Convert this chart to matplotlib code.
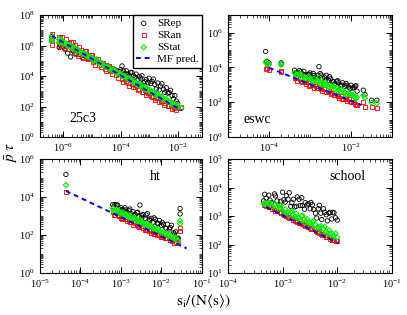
import numpy as np
import matplotlib
matplotlib.use("Agg")
import matplotlib.pyplot as plt
from matplotlib.ticker import LogLocator, NullFormatter

plt.rcParams['font.family'] = 'serif'
plt.rcParams['font.serif'] = ['Liberation Serif', 'DejaVu Serif']
plt.rcParams['mathtext.fontset'] = 'stix'

# ---- 25c3 ----
tl_s = [3.9e-7, 3.9e-7, 3.9e-7, 7.1e-7, 7.1e-7, 8.9e-7, 1.0e-6, 1.26e-6, 1.41e-6, 1.78e-6,
        2.0e-6, 2.5e-6, 2.8e-6, 3.5e-6, 4.5e-6, 5.6e-6, 7.1e-6, 8.9e-6, 1.12e-5, 1.41e-5,
        1.78e-5, 2.24e-5, 2.8e-5, 3.5e-5, 4.5e-5, 5.6e-5, 7.1e-5, 8.9e-5, 1.12e-4, 1.41e-4,
        1.78e-4, 2.24e-4, 2.8e-4, 3.5e-4, 4.0e-4, 5.0e-4, 5.6e-4, 7.1e-4, 7.9e-4, 1.0e-3,
        1.12e-3, 1.41e-3, 1.58e-3, 2.0e-3, 2.24e-3, 2.8e-3, 3.2e-3, 4.0e-3, 4.5e-3, 5.6e-3,
        6.3e-3, 7.9e-3, 8.9e-3, 1.0e-2, 1.35e-2,
        7.9e-7, 8.3e-7, 1.12e-6, 1.58e-6, 2.24e-6, 3.2e-6, 4.0e-6, 5.0e-6, 6.3e-6, 7.9e-6,
        1.0e-5, 1.26e-5, 1.58e-5, 2.0e-5, 2.5e-5, 3.2e-5, 4.0e-5, 5.0e-5, 6.3e-5, 7.9e-5,
        1.0e-4, 1.26e-4, 1.58e-4, 2.0e-4, 2.5e-4, 3.2e-4, 4.5e-4, 6.3e-4, 8.9e-4, 1.26e-3,
        1.78e-3, 2.5e-3, 3.5e-3, 5.0e-3, 7.1e-3]
tl_stat = [4.4e6, 2.75e6, 1.95e6, 2.6e6, 1.66e6, 2.3e6, 1.3e6, 1.4e6, 8.9e5, 1.1e6,
           6.9e5, 7.4e5, 4.4e5, 4.8e5, 2.8e5, 3.3e5, 1.86e5, 1.8e5, 1.0e5, 1.2e5,
           7.1e4, 6.9e4, 4.1e4, 4.3e4, 2.7e4, 2.8e4, 1.66e4, 1.6e4, 9.5e3, 1.0e4,
           6.3e3, 6.6e3, 3.6e3, 3.8e3, 2.7e3, 2.8e3, 1.66e3, 1.86e3, 1.23e3, 1.38e3,
           910, 890, 560, 660, 440, 440, 270, 320, 215, 210,
           132, 148, 102, 115, 83,
           1.6e6, 2.45e6, 1.45e6, 1.0e6, 6.9e5, 4.8e5, 3.8e5, 3.0e5, 2.3e5, 1.8e5,
           1.45e5, 1.12e5, 8.9e4, 6.9e4, 5.5e4, 4.3e4, 3.4e4, 2.6e4, 2.1e4, 1.6e4,
           1.3e4, 1.0e4, 7.9e3, 6.2e3, 4.9e3, 3.8e3, 2.7e3, 1.86e3, 1.29e3, 890,
           630, 440, 300, 210, 145]
tl_ran = [5.5e6, 2.2e6, 1.1e6, 3.7e6, 9.3e5, 3.6e6, 9.1e5, 2.8e6, 5.6e5, 1.8e6,
          4.9e5, 1.1e6, 2.75e5, 8.5e5, 1.9e5, 4.2e5, 1.3e5, 2.6e5, 8.1e4, 1.4e5,
          5.0e4, 7.8e4, 3.1e4, 4.8e4, 2.1e4, 3.0e4, 1.17e4, 1.6e4, 6.5e3, 7.9e3,
          3.5e3, 5.5e3, 1.95e3, 2.7e3, 1.2e3, 2.1e3, 930, 1.17e3, 590, 910,
          460, 500, 250, 440, 195, 245, 135, 215, 107, 117,
          66, 93, 58, 81, 89,
          3.6e6, 1.23e6, 6.5e5, 1.4e6, 1.74e6, 2.1e5, 5.4e5, 1.48e5, 4.7e5, 1.45e5,
          2.6e5, 5.6e4, 1.4e5, 3.9e4, 7.8e4, 2.1e4, 4.3e4, 1.3e4, 2.6e4, 7.2e3,
          1.3e4, 4.0e3, 5.0e3, 2.2e3, 3.1e3, 1.9e3, 1.5e3, 930, 720, 450,
          355, 220, 170, 105, 81]
tl_rep = [3.9e6, 1.95e6, 2.75e6, 1.5e6, 7.4e5, 1.8e6, 8.1e5, 8.9e5, 3.2e5, 1.8e5,
          6.2e5, 3.1e5, 6.2e5, 2.7e5, 2.7e5, 2.6e5, 1.5e5, 1.8e5, 1.0e5, 1.26e5,
          7.9e4, 6.9e4, 4.4e4, 4.8e4, 3.0e4, 3.0e4, 2.1e4, 2.0e4, 4.6e4, 1.4e4,
          1.4e4, 1.7e4, 1.1e4, 1.35e4, 6.0e3, 7.4e3, 1.05e4, 4.2e3, 5.9e3, 7.2e3,
          3.2e3, 6.3e3, 2.8e3, 3.5e3, 1.23e3, 3.1e3, 1.35e3, 1.7e3, 760, 1.17e3,
          525, 525, 230, 162, 79,
          1.0e6, 1.55e6, 5.8e5, 1.0e6, 4.4e5, 4.3e5, 3.8e5, 2.3e5, 2.3e5, 1.6e5,
          1.45e5, 1.12e5, 8.9e4, 6.9e4, 5.5e4, 4.3e4, 3.4e4, 2.95e4, 2.6e4, 2.0e4,
          2.6e4, 2.2e4, 2.2e4, 9.8e3, 1.74e4, 8.5e3, 9.5e3, 3.7e3, 3.6e3, 4.5e3,
          1.4e3, 2.2e3, 850, 830, 320]
tl_mf_s = [3.9e-7, 1.4e-2]
tl_mf = [4.4e6, 55]

# ---- eswc ----
tr_s = [8.3e-5, 8.9e-5, 1.0e-4, 2.0e-4, 2.0e-4, 4.2e-4, 4.8e-4, 5.6e-4, 6.3e-4, 7.1e-4,
        7.9e-4, 8.9e-4, 1.0e-3, 1.12e-3, 1.26e-3, 1.41e-3, 1.58e-3, 1.66e-3, 1.78e-3, 2.0e-3,
        2.24e-3, 2.5e-3, 2.8e-3, 3.2e-3, 3.5e-3, 4.0e-3, 4.5e-3, 5.0e-3, 5.6e-3, 6.3e-3,
        7.1e-3, 7.9e-3, 8.9e-3, 1.0e-2, 1.12e-2, 1.26e-2, 1.41e-2, 2.0e-2, 2.2e-2, 3.2e-2,
        4.3e-2,
        4.5e-4, 6.0e-4, 7.6e-4, 9.5e-4, 1.2e-3, 1.51e-3, 1.9e-3, 2.4e-3, 3.0e-3, 3.8e-3,
        4.8e-3, 6.0e-3, 7.6e-3, 9.5e-3, 1.2e-2, 1.32e-2]
tr_stat = [2.0e4, 1.66e4, 1.5e4, 1.6e4, 1.4e4, 4.9e3, 3.9e3, 4.2e3, 2.6e3, 2.95e3,
           2.4e3, 2.7e3, 2.1e3, 1.7e3, 2.1e3, 1.55e3, 1.55e3, 2.6e3, 1.23e3, 1.38e3,
           980, 1.0e3, 790, 890, 710, 560, 650, 510, 410, 460,
           360, 295, 330, 260, 260, 185, 190, 250, 175, 95,
           87,
           3.7e3, 3.9e3, 2.2e3, 2.8e3, 1.4e3, 1.8e3, 1.02e3, 1.3e3, 660, 830,
           425, 540, 270, 310, 220, 160]
tr_ran = [8.3e3, 9.5e3, 7.1e3, 5.4e3, 6.3e3, 2.45e3, 1.74e3, 2.1e3, 1.48e3, 1.48e3,
          1.07e3, 1.35e3, 950, 950, 680, 870, 620, 1.05e3, 620, 440,
          550, 400, 400, 280, 355, 250, 255, 180, 230, 160,
          160, 117, 148, 105, 105, 83, 68, 105, 54, 54,
          46,
          2.6e3, 1.55e3, 1.55e3, 890, 1.0e3, 650, 575, 360, 415, 265,
          240, 150, 170, 110, 98, 71]
tr_rep = [8.1e4, 2.2e4, 1.8e4, 1.8e4, 1.5e4, 6.9e3, 4.9e3, 6.6e3, 4.2e3, 5.9e3,
          3.8e3, 3.8e3, 4.8e3, 2.7e3, 3.4e3, 2.45e3, 3.5e3, 1.1e4, 4.4e3, 2.2e3,
          2.75e3, 3.5e3, 1.8e3, 2.2e3, 1.6e3, 1.12e3, 1.6e3, 1.3e3, 910, 1.3e3,
          810, 930, 740, 930, 660, 830, 430, 490, 275, 130,
          130,
          4.7e3, 5.5e3, 3.5e3, 4.0e3, 4.5e3, 2.3e3, 3.6e3, 1.8e3, 2.95e3, 1.48e3,
          1.7e3, 950, 1.2e3, 620, 690, 890]
tr_mf_s = [1.0e-4, 1.8e-2]
tr_mf = [9.5e3, 68]

# ---- ht ----
bl_s = [4.4e-5, 6.3e-4, 7.1e-4, 7.9e-4, 8.9e-4, 1.0e-3, 1.12e-3, 1.26e-3, 1.41e-3, 1.58e-3,
        1.78e-3, 2.0e-3, 2.24e-3, 2.5e-3, 2.8e-3, 2.95e-3, 3.2e-3, 3.5e-3, 4.0e-3, 4.5e-3,
        5.0e-3, 5.6e-3, 6.3e-3, 7.1e-3, 7.9e-3, 8.9e-3, 1.0e-2, 1.12e-2, 1.26e-2, 1.41e-2,
        1.58e-2, 1.78e-2, 2.0e-2, 2.24e-2, 2.5e-2, 2.9e-2, 2.9e-2,
        6.6e-4, 8.3e-4, 1.05e-3, 1.32e-3, 1.66e-3, 2.1e-3, 2.6e-3, 3.3e-3, 4.2e-3, 5.2e-3,
        6.6e-3, 8.3e-3, 1.05e-2, 1.32e-2, 1.66e-2, 2.1e-2, 2.6e-2]
bl_stat = [4.3e4, 2.5e3, 2.0e3, 2.2e3, 1.55e3, 1.55e3, 1.55e3, 1.1e3, 1.1e3, 1.1e3,
           780, 780, 780, 540, 540, 650, 540, 380, 380, 380,
           270, 300, 240, 190, 215, 165, 132, 148, 117, 93,
           105, 83, 66, 74, 47, 560, 400,
           1.9e3, 2.1e3, 1.3e3, 1.3e3, 740, 830, 510, 510, 290, 320,
           205, 200, 126, 126, 71, 71, 49]
bl_ran = [1.9e4, 1.58e3, 1.12e3, 1.38e3, 980, 780, 870, 690, 550, 620,
          490, 350, 440, 340, 270, 360, 300, 240, 190, 215,
          170, 135, 150, 120, 95, 105, 83, 93, 66, 66,
          66, 47, 52, 42, 42, 240, 160,
          1.2e3, 1.17e3, 740, 740, 470, 470, 290, 290, 180, 180,
          115, 112, 79, 71, 56, 40, 39]
bl_rep = [1.55e5, 4.0e3, 4.0e3, 3.9e3, 2.45e3, 2.75e3, 2.2e3, 2.75e3, 1.55e3, 1.95e3,
          1.38e3, 1.74e3, 1.23e3, 1.5e3, 950, 3.8e3, 1.07e3, 1.2e3, 760, 1.35e3,
          680, 760, 480, 680, 430, 590, 330, 370, 235, 370,
          210, 330, 132, 148, 66, 2.5e3, 1.3e3,
          3.0e3, 3.7e3, 2.1e3, 2.1e3, 2.35e3, 1.05e3, 1.6e3, 810, 1.15e3, 575,
          810, 400, 450, 225, 250, 112, 69]
bl_mf_s = [4.4e-5, 4.2e-2]
bl_mf = [2.1e4, 20]

# ---- school ----
br_s = [4.5e-4, 5.0e-4, 5.6e-4, 6.3e-4, 7.1e-4, 7.9e-4, 8.9e-4, 1.0e-3, 1.05e-3, 1.12e-3,
        1.26e-3, 1.32e-3, 1.41e-3, 1.58e-3, 1.66e-3, 1.78e-3, 2.0e-3, 2.1e-3, 2.24e-3, 2.5e-3,
        2.6e-3, 2.8e-3, 3.2e-3, 3.3e-3, 3.5e-3, 4.0e-3, 4.2e-3, 4.5e-3, 5.0e-3, 5.2e-3,
        5.6e-3, 6.3e-3, 6.6e-3, 7.1e-3, 7.9e-3, 8.3e-3, 8.7e-3, 1.0e-2,
        4.7e-4, 5.9e-4, 7.4e-4, 9.3e-4, 1.17e-3, 1.48e-3, 1.86e-3, 2.3e-3, 2.95e-3, 3.7e-3,
        4.7e-3, 5.9e-3, 7.4e-3, 9.3e-3]
br_stat = [2.7e3, 2.7e3, 2.7e3, 2.1e3, 2.4e3, 1.9e3, 1.95e3, 1.55e3, 1.3e3, 1.74e3,
           1.38e3, 1.05e3, 1.38e3, 1.1e3, 930, 1.23e3, 870, 660, 980, 780,
           590, 790, 560, 430, 630, 500, 380, 400, 450, 270,
           355, 280, 240, 320, 250, 170, 205, 180,
           2.9e3, 2.9e3, 2.6e3, 2.35e3, 1.3e3, 1.48e3, 930, 1.05e3, 600, 680,
           425, 425, 240, 245]
br_ran = [2.4e3, 2.24e3, 2.1e3, 1.8e3, 1.7e3, 1.45e3, 1.38e3, 1.15e3, 1.1e3, 1.12e3,
          930, 870, 870, 740, 690, 710, 590, 550, 550, 470,
          440, 460, 380, 355, 355, 300, 280, 290, 240, 225,
          225, 190, 180, 180, 150, 140, 145, 130,
          2.45e3, 2.05e3, 1.55e3, 1.3e3, 1.0e3, 830, 630, 525, 410, 340,
          255, 215, 160, 138]
br_rep = [3.4e3, 4.3e3, 5.4e3, 3.0e3, 6.0e3, 3.4e3, 2.45e3, 6.9e3, 3.7e3, 3.1e3,
          3.9e3, 6.6e3, 2.2e3, 3.9e3, 2.1e3, 2.2e3, 3.9e3, 2.35e3, 4.4e3, 1.74e3,
          2.95e3, 2.5e3, 1.8e3, 3.0e3, 2.5e3, 1.26e3, 850, 1.8e3, 1.26e3, 760,
          1.8e3, 1.12e3, 680, 1.26e3, 790, 1.35e3, 1.3e3, 720,
          5.8e3, 3.6e3, 5.1e3, 3.3e3, 5.2e3, 2.95e3, 4.7e3, 2.35e3, 2.7e3, 1.7e3,
          2.4e3, 1.35e3, 1.35e3, 870]
br_mf_s = [5.0e-4, 1.05e-2]
br_mf = [2.1e3, 110]

panels = [
    ("25c3", tl_s, tl_rep, tl_ran, tl_stat, tl_mf_s, tl_mf),
    ("eswc", tr_s, tr_rep, tr_ran, tr_stat, tr_mf_s, tr_mf),
    ("ht", bl_s, bl_rep, bl_ran, bl_stat, bl_mf_s, bl_mf),
    ("school", br_s, br_rep, br_ran, br_stat, br_mf_s, br_mf),
]

fig = plt.figure(figsize=(4.07, 3.15), dpi=100)
rects = [[0.098, 0.565, 0.398, 0.387], [0.560, 0.565, 0.403, 0.387],
         [0.098, 0.133, 0.398, 0.362], [0.560, 0.133, 0.403, 0.362]]
xlims = [(1.5e-7, 7e-2), (1e-5, 1e-1), (1e-5, 1e-1), (1e-4, 1e-1)]
ylims = [(1, 1e8), (1, 1e7), (1, 1e6), (10, 1e5)]
xticks = [[1e-6, 1e-4, 1e-2], [1e-4, 1e-2], [1e-5, 1e-4, 1e-3, 1e-2, 1e-1], [1e-4, 1e-3, 1e-2, 1e-1]]
yticks = [[1, 1e2, 1e4, 1e6, 1e8], [1, 1e2, 1e4, 1e6], [1, 1e2, 1e4, 1e6], [1e1, 1e2, 1e3, 1e4, 1e5]]
name_pos = [(0.265, 0.155), (0.18, 0.14), (0.71, 0.85), (0.73, 0.85)]

for i, (name, s, rep, ran, stat, mfs, mf) in enumerate(panels):
    ax = fig.add_axes(rects[i])
    ax.set_xscale('log')
    ax.set_yscale('log')
    ax.scatter(s, rep, s=10, marker='o', facecolors='none', edgecolors='black',
               linewidths=0.6, zorder=2, label='SRep')
    ax.scatter(s, ran, s=8, marker='s', facecolors='none', edgecolors='red',
               linewidths=0.6, zorder=3, label='SRan')
    ax.scatter(s, stat, s=7, marker='D', facecolors='none', edgecolors='#00ee00',
               linewidths=0.8, zorder=4, label='SStat')
    ax.plot(mfs, mf, color='blue', ls=(0, (2.5, 2)), lw=1.4, zorder=5, label='MF pred.')
    ax.set_xlim(*xlims[i])
    ax.set_ylim(*ylims[i])
    ax.set_xticks(xticks[i])
    ax.set_yticks(yticks[i])
    ax.xaxis.set_minor_locator(LogLocator(base=10, subs=np.arange(1, 10), numticks=100))
    ax.yaxis.set_minor_locator(LogLocator(base=10, subs=np.arange(1, 10), numticks=100))
    ax.xaxis.set_minor_formatter(NullFormatter())
    ax.yaxis.set_minor_formatter(NullFormatter())
    ax.tick_params(which='both', direction='in', top=True, right=True, labelsize=7.5)
    ax.tick_params(axis='x', pad=3.5)
    ax.tick_params(axis='y', pad=3.5)
    ax.tick_params(which='major', length=4, width=0.7)
    ax.tick_params(which='minor', length=2, width=0.5)
    for sp in ax.spines.values():
        sp.set_linewidth(0.8)
    ax.text(*name_pos[i], name, transform=ax.transAxes, ha='center', va='center', fontsize=10)
    if i == 0:
        ax.legend(loc='upper right', fontsize=8, scatterpoints=1, frameon=True, fancybox=False,
                  edgecolor='black', framealpha=1, borderaxespad=0, labelspacing=0.2,
                  handlelength=1.4, handletextpad=0.5, borderpad=0.3)

fig.text(0.028, 0.515, r'$\bar{p}\ \tau$', rotation=90, ha='center', va='center', fontsize=11)
fig.text(0.5, 0.045, r'$\mathrm{s_i/(N\langle s\rangle)}$', ha='center', va='center', fontsize=11)

fig.savefig('out.png', dpi=100)
